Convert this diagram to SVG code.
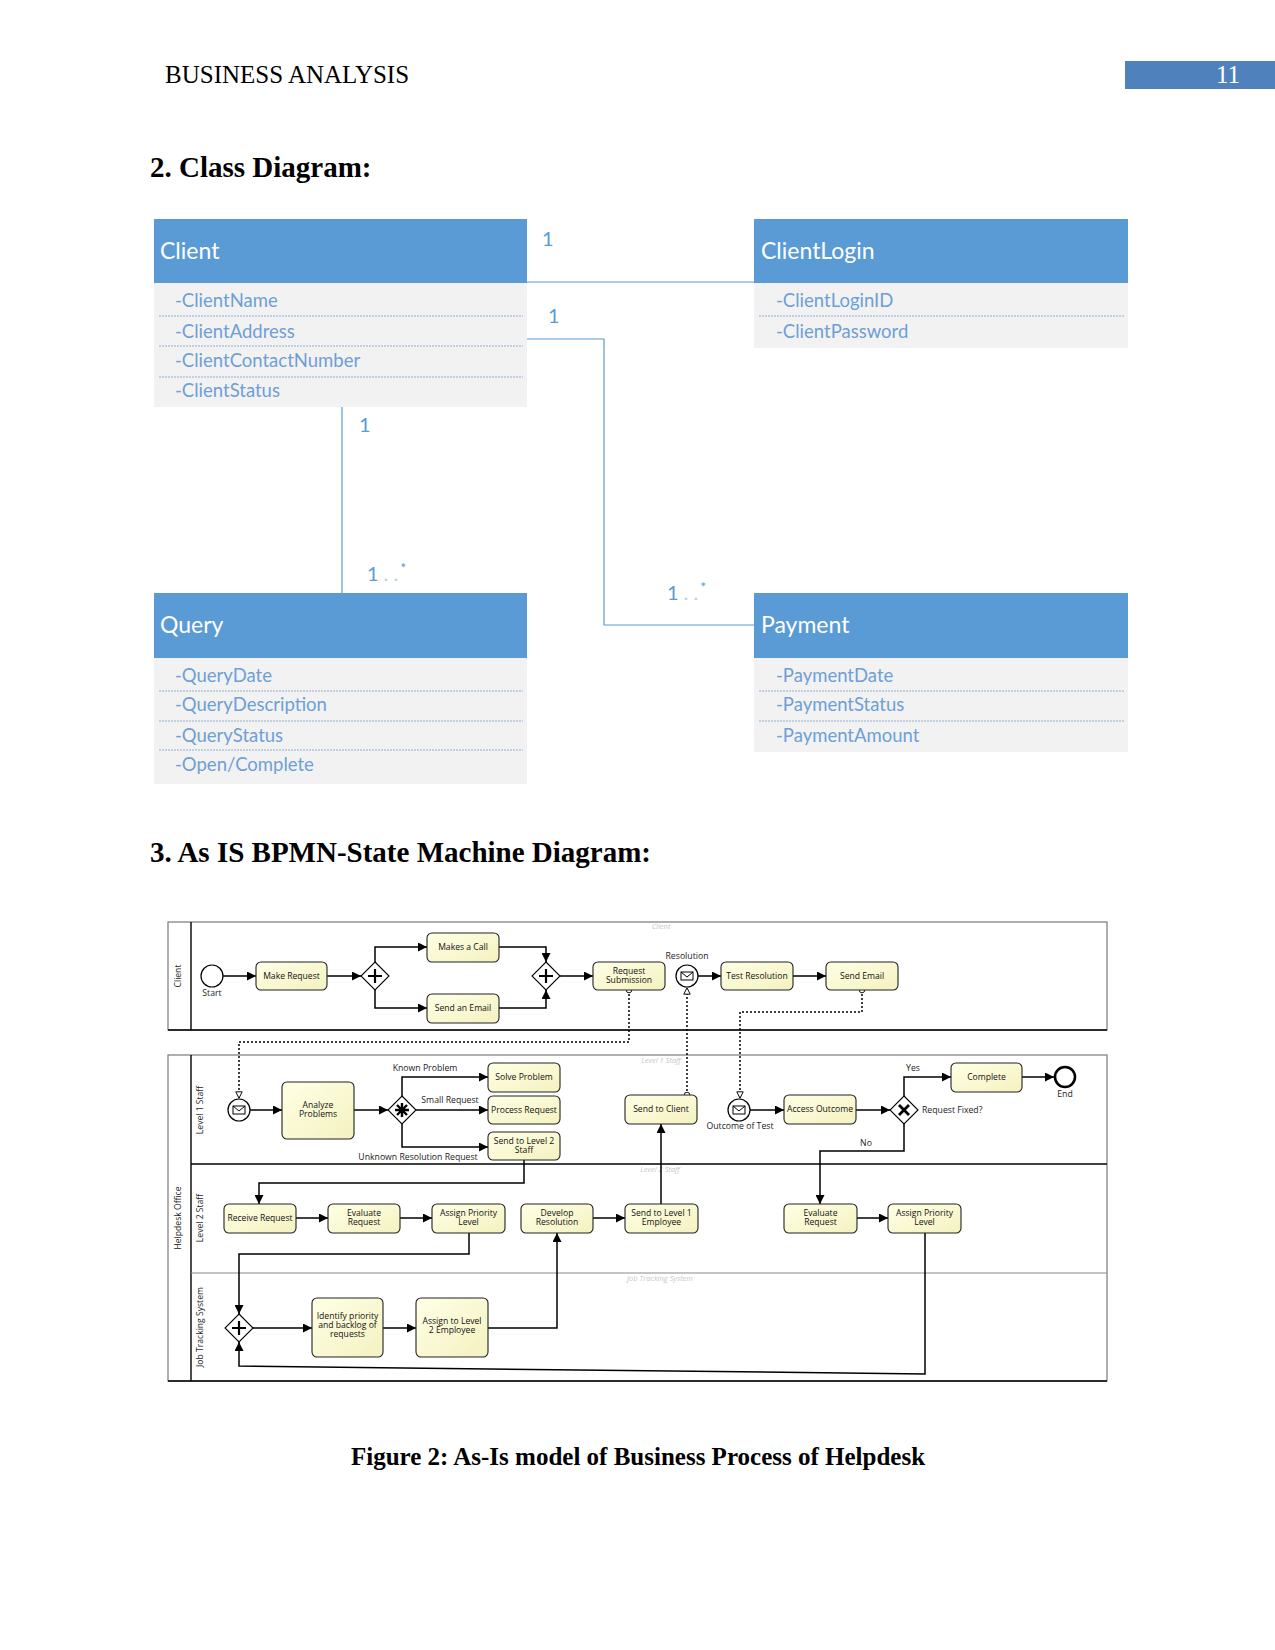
<svg xmlns="http://www.w3.org/2000/svg" width="1275" height="1650" viewBox="0 0 1275 1650">
<defs>
<linearGradient id="taskg" x1="0" y1="0" x2="1" y2="1">
<stop offset="0" stop-color="#FFFFE6"/>
<stop offset="1" stop-color="#F4F2C0"/>
</linearGradient>
<marker id="arr" viewBox="0 0 10 10" refX="10" refY="5" markerWidth="9" markerHeight="9" markerUnits="userSpaceOnUse" orient="auto">
<path d="M0,0 L10,5 L0,10 z" fill="#000"/>
</marker>
<marker id="open" viewBox="0 0 10 10" refX="10" refY="5" markerWidth="8" markerHeight="8" markerUnits="userSpaceOnUse" orient="auto">
<path d="M1,1 L9,5 L1,9 z" fill="#fff" stroke="#000" stroke-width="1.2"/>
</marker>
<marker id="dot" viewBox="0 0 10 10" refX="5" refY="5" markerWidth="7" markerHeight="7" markerUnits="userSpaceOnUse">
<circle cx="5" cy="5" r="4" fill="#fff" stroke="#000" stroke-width="1.3"/>
</marker>
</defs>
<style>
.hdr{font-family:"Liberation Serif",serif;font-size:25px;fill:#000}
.h2{font-family:"Liberation Serif",serif;font-size:29px;font-weight:bold;fill:#000}
.cap{font-family:"Liberation Serif",serif;font-size:25px;font-weight:bold;fill:#000}
.chead{fill:#5B9BD5}
.cbody{fill:#F2F2F2}
.ctitle{font-family:Lato,"Liberation Sans",sans-serif;font-size:23px;fill:#fff}
.attr{font-family:Lato,"Liberation Sans",sans-serif;font-size:18.5px;fill:#6E9FD6}
.sep{stroke:#8FAED3;stroke-width:1.2;stroke-dasharray:2 1}
.assoc{fill:none;stroke:#5B9BD5;stroke-width:1.2}
.mult{font-family:Lato,"Liberation Sans",sans-serif;font-size:20px;fill:#5B9BD5}
.faint{fill:#B9CFE8}
.pool{fill:none;stroke:#7A7A7A;stroke-width:1.2}
.lineb{stroke:#000;stroke-width:1.4}
.lineg{stroke:#8A8A8A;stroke-width:1.2}
.task{fill:url(#taskg);stroke:#222;stroke-width:1.1}
.tt{font-family:"Open Sans","DejaVu Sans",sans-serif;font-size:8.6px;fill:#111;text-anchor:middle}
.lbl{font-family:"Open Sans","DejaVu Sans",sans-serif;font-size:8.7px;fill:#222;text-anchor:middle}
.lane{font-family:"Open Sans","DejaVu Sans",sans-serif;font-size:8.6px;fill:#222;text-anchor:middle}
.ghost{font-family:"Open Sans","DejaVu Sans",sans-serif;font-size:7.5px;font-style:italic;fill:#C8C8C8;text-anchor:middle}
.flow{fill:none;stroke:#000;stroke-width:1.5;marker-end:url(#arr)}
.msg{fill:none;stroke:#000;stroke-width:1.5;stroke-dasharray:2 2;marker-start:url(#dot);marker-end:url(#open)}
.ev{fill:#fff;stroke:#000;stroke-width:1.2}
.gw{fill:#fff;stroke:#000;stroke-width:1.1}
</style>

<!-- Page header -->
<text class="hdr" x="165" y="83">BUSINESS ANALYSIS</text>
<rect x="1125" y="61" width="150" height="28" fill="#4F81BD"/>
<text class="hdr" x="1216" y="83" style="fill:#fff">11</text>
<text class="h2" x="150" y="177">2. Class Diagram:</text>

<!-- Class diagram connectors -->
<g id="class-connectors">
<line class="assoc" x1="527" y1="282" x2="754" y2="282"/>
<polyline class="assoc" points="527,339 604,339 604,625 754,625"/>
<line class="assoc" x1="342" y1="407" x2="342" y2="593"/>
<text class="mult" x="542" y="246">1</text>
<text class="mult" x="548" y="323">1</text>
<text class="mult" x="359" y="432">1</text>
<text class="mult" x="367" y="581">1<tspan class="faint" dx="5">. .</tspan><tspan dx="2" dy="-8" font-size="14">*</tspan></text>
<text class="mult" x="667" y="600">1<tspan class="faint" dx="5">. .</tspan><tspan dx="2" dy="-8" font-size="14">*</tspan></text>
</g>

<g id="class-client">
<rect class="chead" x="154" y="219" width="373" height="64"/>
<rect class="cbody" x="154" y="283" width="373" height="124"/>
<text class="ctitle" x="160" y="259">Client</text>
<text class="attr" x="175" y="307">-ClientName</text>
<line class="sep" x1="159" y1="316" x2="523" y2="316"/>
<text class="attr" x="175" y="338">-ClientAddress</text>
<line class="sep" x1="159" y1="346" x2="523" y2="346"/>
<text class="attr" x="175" y="367">-ClientContactNumber</text>
<line class="sep" x1="159" y1="377" x2="523" y2="377"/>
<text class="attr" x="175" y="397">-ClientStatus</text>
</g>

<g id="class-clientlogin">
<rect class="chead" x="754" y="219" width="374" height="64"/>
<rect class="cbody" x="754" y="283" width="374" height="65"/>
<text class="ctitle" x="761" y="259">ClientLogin</text>
<text class="attr" x="776" y="307">-ClientLoginID</text>
<line class="sep" x1="759" y1="316" x2="1124" y2="316"/>
<text class="attr" x="776" y="338">-ClientPassword</text>
</g>

<g id="class-query">
<rect class="chead" x="154" y="593" width="373" height="65"/>
<rect class="cbody" x="154" y="658" width="373" height="126"/>
<text class="ctitle" x="160" y="633">Query</text>
<text class="attr" x="175" y="682">-QueryDate</text>
<line class="sep" x1="159" y1="691" x2="523" y2="691"/>
<text class="attr" x="175" y="711">-QueryDescription</text>
<line class="sep" x1="159" y1="721" x2="523" y2="721"/>
<text class="attr" x="175" y="742">-QueryStatus</text>
<line class="sep" x1="159" y1="750" x2="523" y2="750"/>
<text class="attr" x="175" y="771">-Open/Complete</text>
</g>

<g id="class-payment">
<rect class="chead" x="754" y="593" width="374" height="65"/>
<rect class="cbody" x="754" y="658" width="374" height="94"/>
<text class="ctitle" x="761" y="633">Payment</text>
<text class="attr" x="776" y="682">-PaymentDate</text>
<line class="sep" x1="759" y1="691" x2="1124" y2="691"/>
<text class="attr" x="776" y="711">-PaymentStatus</text>
<line class="sep" x1="759" y1="721" x2="1124" y2="721"/>
<text class="attr" x="776" y="742">-PaymentAmount</text>
</g>

<text class="h2" x="150" y="862">3. As IS BPMN-State Machine Diagram:</text>

<!-- BPMN pools and lanes -->
<g id="pool-client">
<rect class="pool" x="168" y="922" width="939" height="108"/>
<line class="lineb" x1="168" y1="1030" x2="1107" y2="1030"/>
<line class="lineb" x1="191" y1="922" x2="191" y2="1030"/>
<text class="lane" transform="translate(181,976) rotate(-90)">Client</text>
<text class="ghost" x="661" y="929">Client</text>
</g>

<g id="pool-helpdesk">
<rect class="pool" x="168" y="1055" width="939" height="326"/>
<line class="lineb" x1="168" y1="1381" x2="1107" y2="1381"/>
<line class="lineb" x1="191" y1="1055" x2="191" y2="1381"/>
<line class="lineb" x1="191" y1="1164" x2="1107" y2="1164"/>
<line class="lineg" x1="191" y1="1273" x2="1107" y2="1273"/>
<text class="lane" transform="translate(181,1218) rotate(-90)">Helpdesk Office</text>
<text class="lane" transform="translate(203,1110) rotate(-90)">Level 1 Staff</text>
<text class="lane" transform="translate(203,1218) rotate(-90)">Level 2 Staff</text>
<text class="lane" transform="translate(203,1327) rotate(-90)">Job Tracking System</text>
<text class="ghost" x="661" y="1063">Level 1 Staff</text>
<text class="ghost" x="660" y="1172">Level 2 Staff</text>
<text class="ghost" x="660" y="1281">Job Tracking System</text>
</g>

<!-- Connectors -->
<g id="bpmn-connectors">
<polyline class="flow" points="223,976 256,976"/>
<polyline class="flow" points="327,976 361,976"/>
<polyline class="flow" points="375,962 375,947 427,947"/>
<polyline class="flow" points="375,990 375,1008 427,1008"/>
<polyline class="flow" points="499,947 546,947 546,962"/>
<polyline class="flow" points="499,1008 546,1008 546,990"/>
<polyline class="flow" points="560,976 593,976"/>
<polyline class="flow" points="698,976 721,976"/>
<polyline class="flow" points="793,976 826,976"/>
<polyline class="flow" points="250,1110 282,1110"/>
<polyline class="flow" points="354,1110 388,1110"/>
<polyline class="flow" points="402,1096 402,1077 488,1077"/>
<polyline class="flow" points="416,1110 488,1110"/>
<polyline class="flow" points="402,1124 402,1147 488,1147"/>
<polyline class="flow" points="750,1110 784,1110"/>
<polyline class="flow" points="856,1110 890,1110"/>
<polyline class="flow" points="904,1096 904,1077 951,1077"/>
<polyline class="flow" points="1022,1077 1054,1077"/>
<polyline class="flow" points="904,1124 904,1151 820,1151 820,1204"/>
<polyline class="flow" points="524,1160 524,1183 259,1183 259,1204"/>
<polyline class="flow" points="296,1218 328,1218"/>
<polyline class="flow" points="400,1218 432,1218"/>
<polyline class="flow" points="593,1218 625,1218"/>
<polyline class="flow" points="661,1204 661,1124"/>
<polyline class="flow" points="857,1218 888,1218"/>
<polyline class="flow" points="469,1233 469,1254 239,1254 239,1314"/>
<polyline class="flow" points="253,1328 312,1328"/>
<polyline class="flow" points="383,1328 416,1328"/>
<polyline class="flow" points="488,1328 557,1328 557,1233"/>
<polyline class="flow" points="925,1233 925,1374 239,1366 239,1342"/>
<polyline class="msg" points="629,990 629,1042 239,1042 239,1099"/>
<polyline class="msg" points="687,1095 687,987"/>
<polyline class="msg" points="862,990 862,1012 740,1012 740,1099"/>
<text class="lbl" x="212" y="996">Start</text>
<text class="lbl" x="687" y="959">Resolution</text>
<text class="lbl" x="425" y="1071">Known Problem</text>
<text class="lbl" x="450" y="1103">Small Request</text>
<text class="lbl" x="418" y="1160">Unknown Resolution Request</text>
<text class="lbl" x="740" y="1129">Outcome of Test</text>
<text class="lbl" x="922" y="1113" style="text-anchor:start">Request Fixed?</text>
<text class="lbl" x="913" y="1071">Yes</text>
<text class="lbl" x="1065" y="1097">End</text>
<text class="lbl" x="866" y="1146">No</text>
</g>

<!-- Events -->
<g id="ev-start"><circle class="ev" cx="212" cy="976" r="11"/></g>
<g id="ev-resolution"><circle class="ev" cx="687" cy="976" r="11"/><rect x="681" y="972" width="12" height="8" fill="#fff" stroke="#000" stroke-width="1"/><polyline points="681,972 687,977 693,972" fill="none" stroke="#000" stroke-width="1"/></g>
<g id="ev-l1start"><circle class="ev" cx="239" cy="1110" r="11"/><rect x="233" y="1106" width="12" height="8" fill="#fff" stroke="#000" stroke-width="1"/><polyline points="233,1106 239,1111 245,1106" fill="none" stroke="#000" stroke-width="1"/></g>
<g id="ev-outcome"><circle class="ev" cx="739" cy="1110" r="11"/><rect x="733" y="1106" width="12" height="8" fill="#fff" stroke="#000" stroke-width="1"/><polyline points="733,1106 739,1111 745,1106" fill="none" stroke="#000" stroke-width="1"/></g>
<g id="ev-end"><circle cx="1065" cy="1077" r="10" fill="#fff" stroke="#000" stroke-width="2.6"/></g>

<!-- Gateways -->
<g id="gw-split"><path class="gw" d="M375,962 L389,976 L375,990 L361,976 z"/><path d="M375,969 V983 M368,976 H382" stroke="#000" stroke-width="2.2"/></g>
<g id="gw-join"><path class="gw" d="M546,962 L560,976 L546,990 L532,976 z"/><path d="M546,969 V983 M539,976 H553" stroke="#000" stroke-width="2.2"/></g>
<g id="gw-complex"><path class="gw" d="M402,1096 L416,1110 L402,1124 L388,1110 z"/><path d="M402,1103 V1117 M395,1110 H409 M397,1105 L407,1115 M407,1105 L397,1115" stroke="#000" stroke-width="2.4"/></g>
<g id="gw-fixed"><path class="gw" d="M904,1096 L918,1110 L904,1124 L890,1110 z"/><path d="M899,1105 L909,1115 M909,1105 L899,1115" stroke="#000" stroke-width="2.8"/></g>
<g id="gw-job"><path class="gw" d="M239,1314 L253,1328 L239,1342 L225,1328 z"/><path d="M239,1321 V1335 M232,1328 H246" stroke="#000" stroke-width="2.2"/></g>

<!-- Tasks: Client lane -->
<g id="t-make-request"><rect class="task" x="256" y="962" width="71" height="28" rx="5"/><text class="tt" x="291.5" y="979">Make Request</text></g>
<g id="t-makes-call"><rect class="task" x="427" y="933" width="72" height="29" rx="5"/><text class="tt" x="463" y="950">Makes a Call</text></g>
<g id="t-send-an-email"><rect class="task" x="427" y="994" width="72" height="29" rx="5"/><text class="tt" x="463" y="1011">Send an Email</text></g>
<g id="t-request-submission"><rect class="task" x="593" y="962" width="72" height="28" rx="5"/><text class="tt" x="629" y="974">Request</text><text class="tt" x="629" y="983">Submission</text></g>
<g id="t-test-resolution"><rect class="task" x="721" y="962" width="72" height="28" rx="5"/><text class="tt" x="757" y="979">Test Resolution</text></g>
<g id="t-send-email"><rect class="task" x="826" y="962" width="72" height="28" rx="5"/><text class="tt" x="862" y="979">Send Email</text></g>

<!-- Tasks: Level 1 -->
<g id="t-analyze"><rect class="task" x="282" y="1082" width="72" height="57" rx="5"/><text class="tt" x="318" y="1108">Analyze</text><text class="tt" x="318" y="1117">Problems</text></g>
<g id="t-solve"><rect class="task" x="488" y="1063" width="72" height="29" rx="5"/><text class="tt" x="524" y="1080">Solve Problem</text></g>
<g id="t-process"><rect class="task" x="488" y="1096" width="72" height="28" rx="5"/><text class="tt" x="524" y="1113">Process Request</text></g>
<g id="t-send-l2"><rect class="task" x="488" y="1132" width="72" height="28" rx="5"/><text class="tt" x="524" y="1144">Send to Level 2</text><text class="tt" x="524" y="1153">Staff</text></g>
<g id="t-send-client"><rect class="task" x="625" y="1095" width="72" height="29" rx="5"/><text class="tt" x="661" y="1112">Send to Client</text></g>
<g id="t-access"><rect class="task" x="784" y="1095" width="72" height="29" rx="5"/><text class="tt" x="820" y="1112">Access Outcome</text></g>
<g id="t-complete"><rect class="task" x="951" y="1063" width="71" height="29" rx="5"/><text class="tt" x="986.5" y="1080">Complete</text></g>

<!-- Tasks: Level 2 -->
<g id="t-receive"><rect class="task" x="224" y="1204" width="72" height="29" rx="5"/><text class="tt" x="260" y="1221">Receive Request</text></g>
<g id="t-evaluate1"><rect class="task" x="328" y="1204" width="72" height="29" rx="5"/><text class="tt" x="364" y="1216">Evaluate</text><text class="tt" x="364" y="1225">Request</text></g>
<g id="t-assign1"><rect class="task" x="432" y="1204" width="73" height="29" rx="5"/><text class="tt" x="468.5" y="1216">Assign Priority</text><text class="tt" x="468.5" y="1225">Level</text></g>
<g id="t-develop"><rect class="task" x="521" y="1204" width="72" height="29" rx="5"/><text class="tt" x="557" y="1216">Develop</text><text class="tt" x="557" y="1225">Resolution</text></g>
<g id="t-send-l1"><rect class="task" x="625" y="1204" width="73" height="29" rx="5"/><text class="tt" x="661.5" y="1216">Send to Level 1</text><text class="tt" x="661.5" y="1225">Employee</text></g>
<g id="t-evaluate2"><rect class="task" x="784" y="1204" width="73" height="29" rx="5"/><text class="tt" x="820.5" y="1216">Evaluate</text><text class="tt" x="820.5" y="1225">Request</text></g>
<g id="t-assign2"><rect class="task" x="888" y="1204" width="73" height="29" rx="5"/><text class="tt" x="924.5" y="1216">Assign Priority</text><text class="tt" x="924.5" y="1225">Level</text></g>

<!-- Tasks: Job Tracking -->
<g id="t-identify"><rect class="task" x="312" y="1298" width="71" height="59" rx="5"/><text class="tt" x="347.5" y="1319">Identify priority</text><text class="tt" x="347.5" y="1328">and backlog of</text><text class="tt" x="347.5" y="1337">requests</text></g>
<g id="t-assign-l2"><rect class="task" x="416" y="1298" width="72" height="59" rx="5"/><text class="tt" x="452" y="1324">Assign to Level</text><text class="tt" x="452" y="1333">2 Employee</text></g>

<text class="cap" x="638" y="1465" text-anchor="middle">Figure 2: As-Is model of Business Process of Helpdesk</text>
</svg>
